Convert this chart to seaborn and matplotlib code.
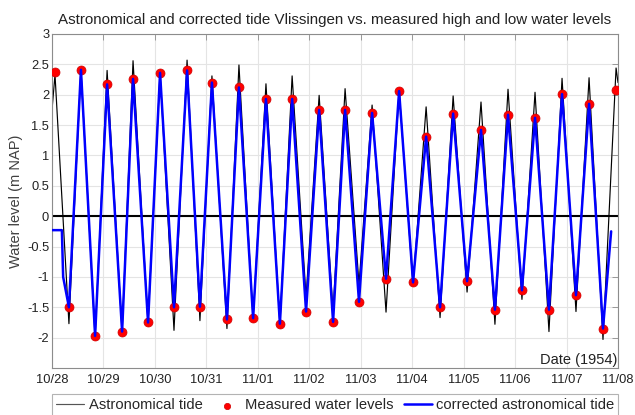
"""Astronomical vs corrected tide at Vlissingen, Oct/Nov 1954, with measured HW/LW."""
import matplotlib
matplotlib.use("Agg")
import matplotlib.dates as mdates
import matplotlib.pyplot as plt
import pandas as pd
import seaborn as sns
from matplotlib.ticker import FormatStrFormatter

START = pd.Timestamp("1954-10-28")

# times of high / low water, hours after 28 Oct 00:00
hw_hours = [1.4, 13.5, 25.7, 37.8, 50.4, 63.0, 74.6, 87.2, 99.8, 112.0, 124.6,
            136.7, 149.3, 161.9, 174.5, 187.1, 200.1, 212.7, 225.3, 237.9, 250.5, 263.1]
lw_hours = [7.9, 20.1, 32.7, 44.8, 56.9, 69.0, 81.6, 93.8, 106.3, 118.5, 131.1,
            143.2, 155.8, 168.4, 181.0, 193.6, 206.6, 219.2, 231.8, 244.4, 257.0]

# astronomical tide at HW / LW (m NAP)
astro_hw = [2.33, 2.43, 2.40, 2.56, 2.38, 2.57, 2.31, 2.49, 2.18, 2.31, 1.99,
            2.10, 1.83, 2.08, 1.80, 1.98, 1.88, 2.09, 2.04, 2.27, 2.28, 2.44]
astro_lw = [-1.77, -2.00, -1.92, -1.77, -1.88, -1.72, -1.85, -1.70, -1.79, -1.33, -1.58,
            -1.12, -1.58, -1.14, -1.67, -1.25, -1.78, -1.37, -1.90, -1.57, -2.03]

# measured HW / LW (m NAP)
meas_hw = [2.38, 2.41, 2.17, 2.26, 2.36, 2.40, 2.20, 2.12, 1.93, 1.93, 1.75,
           1.75, 1.70, 2.06, 1.31, 1.69, 1.42, 1.67, 1.62, 2.01, 1.85, 2.08]
meas_lw = [-1.50, -1.97, -1.90, -1.75, -1.50, -1.49, -1.70, -1.68, -1.77, -1.57, -1.74,
           -1.41, -1.03, -1.09, -1.50, -1.07, -1.54, -1.22, -1.54, -1.30, -1.85]

# curve ends
astro_start_hours, astro_start_level = [0.0], [1.75]
astro_end_hours, astro_end_level = [264.0], [2.20]
corr_start_hours, corr_start_level = [0.0, 4.6, 5.2], [-0.23, -0.23, -1.0]
corr_end_hours, corr_end_level = [260.8], [-0.25]

y_ticks = [-2, -1.5, -1, -0.5, 0, 0.5, 1, 1.5, 2, 2.5, 3]


def to_time(hours):
    return START + pd.to_timedelta(hours, unit="h")


def interleave(hw, lw):
    out = []
    for i, v in enumerate(hw):
        out.append(v)
        if i < len(lw):
            out.append(lw[i])
    return out


def main() -> None:
    sns.set_theme(style="whitegrid")
    plt.rcParams["font.family"] = ["Liberation Sans", "DejaVu Sans"]

    ext_hours = interleave(hw_hours, lw_hours)
    astro = pd.DataFrame({
        "t": to_time(astro_start_hours + ext_hours + astro_end_hours),
        "level": astro_start_level + interleave(astro_hw, astro_lw) + astro_end_level,
    })
    corr = pd.DataFrame({
        "t": to_time(corr_start_hours + ext_hours[1:-1] + corr_end_hours),
        "level": corr_start_level + interleave(meas_hw, meas_lw)[1:-1] + corr_end_level,
    })
    meas = pd.DataFrame({"t": to_time(ext_hours), "level": interleave(meas_hw, meas_lw)})

    fig = plt.figure(figsize=(6.35, 4.15), dpi=100)
    ax = fig.add_axes([52 / 635, 1 - 368 / 415, 566 / 635, 334 / 415])

    ax.axhline(0, color="black", lw=1.5, zorder=1.5)
    sns.lineplot(data=astro, x="t", y="level", color="black", lw=0.85,
                 sort=False, estimator=None, label="Astronomical tide", ax=ax, zorder=2)
    sns.scatterplot(data=meas, x="t", y="level", color="#ff0000", edgecolor="#d00000",
                    linewidth=0.5, s=42, label="Measured water levels", ax=ax, zorder=3)
    sns.lineplot(data=corr, x="t", y="level", color="#0000ff", lw=1.8,
                 sort=False, estimator=None, label="corrected astronomical tide", ax=ax, zorder=4)

    ax.set_xlim(START, START + pd.Timedelta(days=11))
    ax.set_ylim(-2.5, 3)
    ax.xaxis.set_major_locator(mdates.DayLocator())
    ax.xaxis.set_major_formatter(mdates.DateFormatter("%m/%d"))
    ax.set_yticks(y_ticks)
    ax.yaxis.set_major_formatter(FormatStrFormatter("%g"))

    ax.grid(True, color="#e4e4e4", lw=0.8)
    for s in ax.spines.values():
        s.set_color("#8c8c8c")
        s.set_linewidth(0.8)
    ax.tick_params(direction="in", length=4, width=0.6, color="#8c8c8c",
                   top=True, right=True, labelsize=9.3, labelcolor="#222222")
    ax.tick_params(axis="x", pad=4.5)
    ax.tick_params(axis="y", pad=2)

    ax.set_xlabel("")
    ax.set_ylabel("Water level (m NAP)", fontsize=10.5, color="#404040", labelpad=3)
    ax.set_title("Astronomical and corrected tide Vlissingen vs. measured high and low water levels",
                 fontsize=10.9, color="#222222", pad=7)
    ax.text(0.999, 0.004, "Date (1954)", transform=ax.transAxes, ha="right", va="bottom",
            fontsize=10.5, color="#222222")

    handles, labels = ax.get_legend_handles_labels()
    order = ["Astronomical tide", "Measured water levels", "corrected astronomical tide"]
    hmap = dict(zip(labels, handles))
    leg = ax.legend([hmap[k] for k in order], order, ncol=3, loc="upper left",
                    bbox_to_anchor=(0, -0.078), fontsize=10.6, markerscale=0.7,
                    frameon=True, fancybox=False, edgecolor="#a0a0a0",
                    handlelength=1.9, handletextpad=0.28, columnspacing=0.7,
                    borderpad=0.3, borderaxespad=0)
    leg.get_frame().set_linewidth(0.8)
    leg.get_lines()[0].set_color("#555555")

    fig.savefig("out.png", dpi=100)
    plt.close(fig)


if __name__ == "__main__":
    main()
